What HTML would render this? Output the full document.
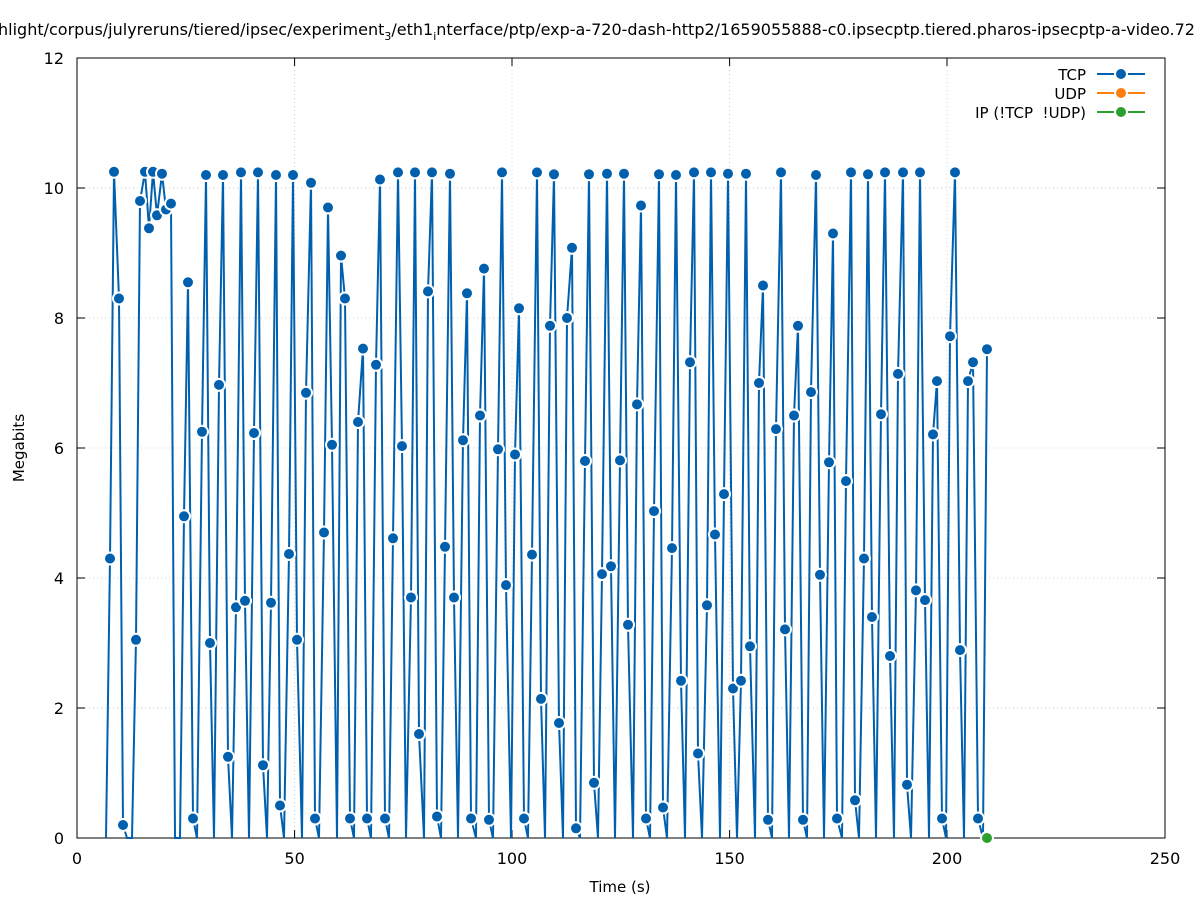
<!DOCTYPE html>
<html><head><meta charset="utf-8"><style>
body{margin:0;background:#fff;width:1197px;height:900px;overflow:hidden}
svg{font-family:"DejaVu Sans","Liberation Sans",sans-serif}
</style></head><body>
<svg id="s" width="1197" height="900" viewBox="0 0 1197 900">
<rect width="1197" height="900" fill="#fff"/>
<g stroke="#d0d0d0" stroke-dasharray="1,3" stroke-width="1">
<line x1="294.6" y1="58" x2="294.6" y2="838"/><line x1="512" y1="58" x2="512" y2="838"/><line x1="729.6" y1="58" x2="729.6" y2="838"/><line x1="947" y1="58" x2="947" y2="838"/>
<line x1="77" y1="708" x2="1165" y2="708"/><line x1="77" y1="578" x2="1165" y2="578"/><line x1="77" y1="448" x2="1165" y2="448"/><line x1="77" y1="318" x2="1165" y2="318"/><line x1="77" y1="188" x2="1165" y2="188"/>
</g>
<rect x="77" y="58" width="1088" height="780" fill="none" stroke="#000" stroke-width="1"/>
<g stroke="#000" stroke-width="1">
<line x1="294.6" y1="838" x2="294.6" y2="830"/><line x1="512" y1="838" x2="512" y2="830"/><line x1="729.6" y1="838" x2="729.6" y2="830"/><line x1="947" y1="838" x2="947" y2="830"/>
<line x1="294.6" y1="58" x2="294.6" y2="66"/><line x1="512" y1="58" x2="512" y2="66"/><line x1="729.6" y1="58" x2="729.6" y2="66"/><line x1="947" y1="58" x2="947" y2="66"/>
<line x1="77" y1="708" x2="85" y2="708"/><line x1="77" y1="578" x2="85" y2="578"/><line x1="77" y1="448" x2="85" y2="448"/><line x1="77" y1="318" x2="85" y2="318"/><line x1="77" y1="188" x2="85" y2="188"/>
<line x1="1165" y1="708" x2="1157" y2="708"/><line x1="1165" y1="578" x2="1157" y2="578"/><line x1="1165" y1="448" x2="1157" y2="448"/><line x1="1165" y1="318" x2="1157" y2="318"/><line x1="1165" y1="188" x2="1157" y2="188"/>
</g>
<g font-size="16" fill="#000" text-anchor="middle">
<text x="77" y="864">0</text><text x="294.6" y="864">50</text><text x="512" y="864">100</text><text x="729.6" y="864">150</text><text x="947" y="864">200</text><text x="1165" y="864">250</text>
<text x="620" y="892" font-size="15">Time (s)</text>
</g>
<g font-size="16" fill="#000" text-anchor="end">
<text x="64" y="844">0</text><text x="64" y="714">2</text><text x="64" y="584">4</text><text x="64" y="454">6</text><text x="64" y="324">8</text><text x="64" y="194">10</text><text x="64" y="64">12</text>
</g>
<text x="24" y="448" font-size="15" text-anchor="middle" transform="rotate(-90 24 448)">Megabits</text>
<text x="-2" y="35" font-size="16">hlight/corpus/julyreruns/tiered/ipsec/experiment<tspan font-size="11" dy="5">3</tspan><tspan dy="-5">/eth1</tspan><tspan font-size="11" dy="5">i</tspan><tspan dy="-5">nterface/ptp/exp-a-720-dash-http2/1659055888-c0.ipsecptp.tiered.pharos-ipsecptp-a-video.72</tspan></text>
<g font-size="15" text-anchor="end"><text x="1086" y="80">TCP</text><text x="1086" y="99">UDP</text><text x="1086" y="118">IP (!TCP&#160; !UDP)</text></g>
<g stroke-width="2"><line x1="1097" y1="74" x2="1145" y2="74" stroke="#0060ad"/><line x1="1097" y1="93" x2="1145" y2="93" stroke="#ff7f0e"/><line x1="1097" y1="112" x2="1145" y2="112" stroke="#2ca02c"/></g>
<circle cx="1121" cy="74" r="6" fill="#0060ad" stroke="#fff" stroke-width="2"/><circle cx="1121" cy="93" r="6" fill="#ff7f0e" stroke="#fff" stroke-width="2"/><circle cx="1121" cy="112" r="6" fill="#2ca02c" stroke="#fff" stroke-width="2"/>
<g id="d"></g>
<circle cx="987" cy="838" r="6" fill="#2ca02c" stroke="#fff" stroke-width="2"/>
</svg>
<script>
var D=[[106,0],[110,4.3],[114,10.25],[119,8.3],[123,0.2],[127,0],[132,0],[136,3.05],[140,9.8],[145,10.25],[149,9.38],[153,10.25],[157,9.58],[162,10.22],[166,9.67],[171,9.76],[175,0],[180,0],[184,4.95],[188,8.55],[193,0.3],[197,0],[202,6.25],[206,10.2],[210,3.0],[214,0],[219,6.97],[223,10.2],[228,1.25],[232,0],[236,3.55],[241,10.24],[245,3.65],[249,0],[254,6.23],[258,10.24],[263,1.12],[267,0],[271,3.62],[276,10.2],[280,0.5],[284,0],[289,4.37],[293,10.2],[297,3.05],[302,0],[306,6.85],[311,10.08],[315,0.3],[319,0],[324,4.7],[328,9.7],[332,6.05],[337,0],[341,8.96],[345,8.3],[350,0.3],[354,0],[358,6.4],[363,7.53],[367,0.3],[371,0],[376,7.28],[380,10.13],[385,0.3],[389,0],[393,4.61],[398,10.24],[402,6.03],[406,0],[411,3.7],[415,10.24],[419,1.6],[424,0],[428,8.41],[432,10.24],[437,0.33],[441,0],[445,4.48],[450,10.22],[454,3.7],[458,0],[463,6.12],[467,8.38],[471,0.3],[476,0],[480,6.5],[484,8.76],[489,0.28],[493,0],[498,5.98],[502,10.24],[506,3.89],[511,0],[515,5.9],[519,8.15],[524,0.3],[528,0],[532,4.36],[537,10.24],[541,2.14],[545,0],[550,7.88],[554,10.21],[559,1.77],[563,0],[567,8.0],[572,9.08],[576,0.15],[580,0],[585,5.8],[589,10.21],[594,0.85],[598,0],[602,4.06],[607,10.22],[611,4.18],[615,0],[620,5.81],[624,10.22],[628,3.28],[633,0],[637,6.67],[641,9.73],[646,0.3],[650,0],[654,5.03],[659,10.21],[663,0.47],[667,0],[672,4.46],[676,10.2],[681,2.42],[685,0],[690,7.32],[694,10.24],[698,1.3],[702,0],[707,3.58],[711,10.24],[715,4.67],[720,0],[724,5.29],[728,10.22],[733,2.3],[737,0],[741,2.42],[746,10.22],[750,2.95],[755,0],[759,7.0],[763,8.5],[768,0.28],[772,0],[776,6.29],[781,10.24],[785,3.21],[789,0],[794,6.5],[798,7.88],[803,0.28],[807,0],[811,6.86],[816,10.2],[820,4.05],[824,0],[829,5.78],[833,9.3],[837,0.3],[842,0],[846,5.49],[851,10.24],[855,0.58],[859,0],[864,4.3],[868,10.21],[872,3.4],[876,0],[881,6.52],[885,10.24],[890,2.8],[894,0],[898,7.14],[903,10.24],[907,0.82],[911,0],[916,3.81],[920,10.24],[925,3.66],[929,0],[933,6.21],[937,7.03],[942,0.3],[946,0],[950,7.72],[955,10.24],[960,2.89],[964,0],[968,7.03],[973,7.32],[978,0.3],[983,0],[987,7.52]];
var g=document.getElementById('d'),ns='http://www.w3.org/2000/svg';
var pts=D.map(function(p){return p[0]+','+(838-p[1]*65).toFixed(1)}).join(' ');
var pl=document.createElementNS(ns,'polyline');pl.setAttribute('points',pts);pl.setAttribute('fill','none');pl.setAttribute('stroke','#0060ad');pl.setAttribute('stroke-width','2');g.appendChild(pl);
D.forEach(function(p){if(p[1]>0){var c=document.createElementNS(ns,'circle');c.setAttribute('cx',p[0]);c.setAttribute('cy',(838-p[1]*65).toFixed(1));c.setAttribute('r','6');c.setAttribute('fill','#0060ad');c.setAttribute('stroke','#fff');c.setAttribute('stroke-width','2');g.appendChild(c);}});
</script>
</body></html>
